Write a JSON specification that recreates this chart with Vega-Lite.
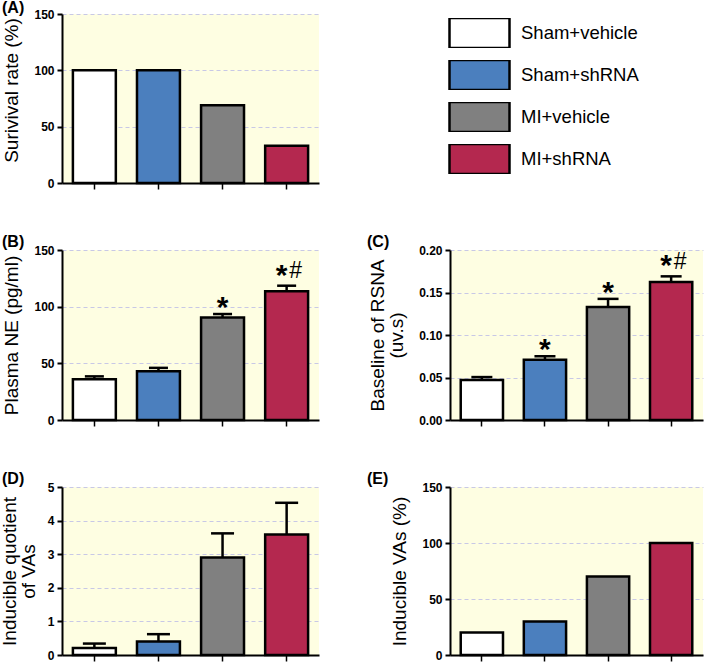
{
  "$schema": "https://vega.github.io/schema/vega-lite/v6.json",
  "padding": {"left": 0, "top": 0, "right": 2, "bottom": 0},
  "background": "white",
  "columns": 2,
  "bounds": "flush",
  "align": "each",
  "spacing": {"row": 67, "column": 131},
  "resolve": {"scale": {"color": "independent"}, "legend": {"color": "independent"}},
  "concat": [
    {
      "width": 257, "height": 169,
      "view": {"fill": "#fefee2", "stroke": null},
      "title": {"text": "(A)", "dx": -60, "dy": 12},
      "data": {"values": [
        {"group": "Sham+vehicle", "value": 100},
        {"group": "Sham+shRNA", "value": 100},
        {"group": "MI+vehicle", "value": 69},
        {"group": "MI+shRNA", "value": 33}
      ]},
      "mark": {"type": "bar", "stroke": "black", "strokeWidth": 2.5},
      "encoding": {
        "x": {"field": "group", "type": "nominal", "sort": null, "scale": {"domain": ["Sham+vehicle","Sham+shRNA","MI+vehicle","MI+shRNA"], "paddingInner": 0.33, "paddingOuter": 0.17}, "axis": {"title": null}},
        "y": {"field": "value", "type": "quantitative", "title": "Surivival rate (%)", "scale": {"domain": [0, 150], "nice": false}, "axis": {"values": [0, 50, 100, 150], "titleY": 76}},
        "color": {"field": "group", "type": "nominal", "scale": {"domain": ["Sham+vehicle","Sham+shRNA","MI+vehicle","MI+shRNA"], "range": ["#ffffff","#4b7fbe","#808080","#b4284f"]}, "legend": null}
      }
    },
    {
      "width": 253, "height": 169,
      "view": {"fill": null, "stroke": null},
      "data": {"values": [
        {"group": "Sham+vehicle"},
        {"group": "Sham+shRNA"},
        {"group": "MI+vehicle"},
        {"group": "MI+shRNA"}
      ]},
      "mark": {"type": "point", "filled": true, "opacity": 0},
      "encoding": {
        "color": {"field": "group", "type": "nominal", "sort": null,
          "scale": {"domain": ["Sham+vehicle","Sham+shRNA","MI+vehicle","MI+shRNA"], "range": ["#ffffff","#4b7fbe","#808080","#b4284f"]},
          "legend": {
            "orient": "none", "legendX": -2, "legendY": 4, "title": null, "padding": 0,
            "symbolType": "M-1,-1H3V1H-1Z", "symbolSize": 900, "clipHeight": 30,
            "symbolStrokeColor": "black", "symbolStrokeWidth": 2.5, "symbolOpacity": 1,
            "labelFont": "Liberation Sans", "labelFontSize": 18.5, "labelColor": "black", "labelOffset": 40, "labelLimit": 300,
            "rowPadding": 12,
            "encode": {"symbols": {"update": {"stroke": {"value": "black"}, "strokeWidth": {"value": 2.5}, "opacity": {"value": 1}}}}
          }
        }
      }
    },
    {
      "width": 257, "height": 170,
      "view": {"fill": "#fefee2", "stroke": null},
      "title": {"text": "(B)", "dx": -60, "dy": 10},
      "data": {"values": [
        {"group": "Sham+vehicle", "value": 36, "upper": 38.5, "star": "", "hash": ""},
        {"group": "Sham+shRNA", "value": 43, "upper": 46, "star": "", "hash": ""},
        {"group": "MI+vehicle", "value": 90.5, "upper": 93.5, "star": "*", "hash": ""},
        {"group": "MI+shRNA", "value": 113.5, "upper": 118.5, "star": "*", "hash": "#"}
      ]},
      "encoding": {
        "x": {"field": "group", "type": "nominal", "sort": null, "scale": {"domain": ["Sham+vehicle","Sham+shRNA","MI+vehicle","MI+shRNA"], "paddingInner": 0.33, "paddingOuter": 0.17}, "axis": {"title": null}}
      },
      "layer": [
        {"mark": {"type": "rule", "color": "black", "strokeWidth": 2.5},
         "encoding": {"y": {"field": "value", "type": "quantitative", "title": "Plasma NE (pg/ml)", "scale": {"domain": [0, 150], "nice": false}, "axis": {"values": [0, 50, 100, 150]}}, "y2": {"field": "upper"}}},
        {"mark": {"type": "tick", "color": "black", "thickness": 2.5, "size": 19, "opacity": 1},
         "encoding": {"y": {"field": "upper", "type": "quantitative", "title": "Plasma NE (pg/ml)", "scale": {"domain": [0, 150], "nice": false}, "axis": {"values": [0, 50, 100, 150]}}}},
        {"mark": {"type": "bar", "stroke": "black", "strokeWidth": 2.5},
         "encoding": {"y": {"field": "value", "type": "quantitative", "title": "Plasma NE (pg/ml)", "scale": {"domain": [0, 150], "nice": false}, "axis": {"values": [0, 50, 100, 150]}},
           "color": {"field": "group", "type": "nominal", "scale": {"domain": ["Sham+vehicle","Sham+shRNA","MI+vehicle","MI+shRNA"], "range": ["#ffffff","#4b7fbe","#808080","#b4284f"]}, "legend": null}}},
        {"transform": [{"filter": "datum.star == '*' && datum.hash == ''"}],
         "mark": {"type": "text", "font": "Liberation Sans", "fontSize": 30, "fontWeight": "bold", "baseline": "alphabetic", "dy": 3, "color": "black"},
         "encoding": {"y": {"field": "upper", "type": "quantitative", "title": "Plasma NE (pg/ml)", "scale": {"domain": [0, 150], "nice": false}, "axis": {"values": [0, 50, 100, 150]}}, "text": {"field": "star"}}},
        {"transform": [{"filter": "datum.hash == '#'"}],
         "mark": {"type": "text", "font": "Liberation Sans", "fontSize": 30, "fontWeight": "bold", "baseline": "alphabetic", "dy": -1, "dx": -5, "color": "black"},
         "encoding": {"y": {"field": "upper", "type": "quantitative", "title": "Plasma NE (pg/ml)", "scale": {"domain": [0, 150], "nice": false}, "axis": {"values": [0, 50, 100, 150]}}, "text": {"field": "star"}}},
        {"transform": [{"filter": "datum.hash == '#'"}],
         "mark": {"type": "text", "font": "Liberation Sans", "fontSize": 23, "baseline": "alphabetic", "dy": -7.5, "dx": 9, "color": "black"},
         "encoding": {"y": {"field": "upper", "type": "quantitative", "title": "Plasma NE (pg/ml)", "scale": {"domain": [0, 150], "nice": false}, "axis": {"values": [0, 50, 100, 150]}}, "text": {"field": "hash"}}}
      ]
    },
    {
      "width": 253, "height": 170,
      "view": {"fill": "#fefee2", "stroke": null},
      "title": {"text": "(C)", "dx": -83, "dy": 10},
      "data": {"values": [
        {"group": "Sham+vehicle", "value": 0.047, "upper": 0.0505, "star": "", "hash": ""},
        {"group": "Sham+shRNA", "value": 0.071, "upper": 0.075, "star": "*", "hash": ""},
        {"group": "MI+vehicle", "value": 0.133, "upper": 0.1425, "star": "*", "hash": ""},
        {"group": "MI+shRNA", "value": 0.1625, "upper": 0.169, "star": "*", "hash": "#"}
      ]},
      "encoding": {
        "x": {"field": "group", "type": "nominal", "sort": null, "scale": {"domain": ["Sham+vehicle","Sham+shRNA","MI+vehicle","MI+shRNA"], "paddingInner": 0.33, "paddingOuter": 0.17}, "axis": {"title": null}}
      },
      "layer": [
        {"mark": {"type": "rule", "color": "black", "strokeWidth": 2.5},
         "encoding": {"y": {"field": "value", "type": "quantitative", "title": ["Baseline of RSNA", "(uv.s)"], "scale": {"domain": [0, 0.2], "nice": false}, "axis": {"values": [0, 0.05, 0.1, 0.15, 0.2], "format": ".2f"}}, "y2": {"field": "upper"}}},
        {"mark": {"type": "tick", "color": "black", "thickness": 2.5, "size": 21, "opacity": 1},
         "encoding": {"y": {"field": "upper", "type": "quantitative", "title": ["Baseline of RSNA", "(uv.s)"], "scale": {"domain": [0, 0.2], "nice": false}, "axis": {"values": [0, 0.05, 0.1, 0.15, 0.2], "format": ".2f"}}}},
        {"mark": {"type": "bar", "stroke": "black", "strokeWidth": 2.5},
         "encoding": {"y": {"field": "value", "type": "quantitative", "title": ["Baseline of RSNA", "(uv.s)"], "scale": {"domain": [0, 0.2], "nice": false}, "axis": {"values": [0, 0.05, 0.1, 0.15, 0.2], "format": ".2f"}},
           "color": {"field": "group", "type": "nominal", "scale": {"domain": ["Sham+vehicle","Sham+shRNA","MI+vehicle","MI+shRNA"], "range": ["#ffffff","#4b7fbe","#808080","#b4284f"]}, "legend": null}}},
        {"transform": [{"filter": "datum.star == '*' && datum.hash == ''"}],
         "mark": {"type": "text", "font": "Liberation Sans", "fontSize": 30, "fontWeight": "bold", "baseline": "alphabetic", "dy": 3, "color": "black"},
         "encoding": {"y": {"field": "upper", "type": "quantitative", "title": ["Baseline of RSNA", "(uv.s)"], "scale": {"domain": [0, 0.2], "nice": false}, "axis": {"values": [0, 0.05, 0.1, 0.15, 0.2], "format": ".2f"}}, "text": {"field": "star"}}},
        {"transform": [{"filter": "datum.hash == '#'"}],
         "mark": {"type": "text", "font": "Liberation Sans", "fontSize": 30, "fontWeight": "bold", "baseline": "alphabetic", "dy": -1, "dx": -5, "color": "black"},
         "encoding": {"y": {"field": "upper", "type": "quantitative", "title": ["Baseline of RSNA", "(uv.s)"], "scale": {"domain": [0, 0.2], "nice": false}, "axis": {"values": [0, 0.05, 0.1, 0.15, 0.2], "format": ".2f"}}, "text": {"field": "star"}}},
        {"transform": [{"filter": "datum.hash == '#'"}],
         "mark": {"type": "text", "font": "Liberation Sans", "fontSize": 23, "baseline": "alphabetic", "dy": -7.5, "dx": 9, "color": "black"},
         "encoding": {"y": {"field": "upper", "type": "quantitative", "title": ["Baseline of RSNA", "(uv.s)"], "scale": {"domain": [0, 0.2], "nice": false}, "axis": {"values": [0, 0.05, 0.1, 0.15, 0.2], "format": ".2f"}}, "text": {"field": "hash"}}}
      ]
    },
    {
      "width": 257, "height": 168,
      "view": {"fill": "#fefee2", "stroke": null},
      "title": {"text": "(D)", "dx": -60, "dy": 10},
      "data": {"values": [
        {"group": "Sham+vehicle", "value": 0.21, "upper": 0.34},
        {"group": "Sham+shRNA", "value": 0.4, "upper": 0.62},
        {"group": "MI+vehicle", "value": 2.9, "upper": 3.62},
        {"group": "MI+shRNA", "value": 3.59, "upper": 4.53}
      ]},
      "encoding": {
        "x": {"field": "group", "type": "nominal", "sort": null, "scale": {"domain": ["Sham+vehicle","Sham+shRNA","MI+vehicle","MI+shRNA"], "paddingInner": 0.33, "paddingOuter": 0.17}, "axis": {"title": null}}
      },
      "layer": [
        {"mark": {"type": "rule", "color": "black", "strokeWidth": 2.5},
         "encoding": {"y": {"field": "value", "type": "quantitative", "title": ["Inducible quotient", "of VAs"], "scale": {"domain": [0, 5], "nice": false}, "axis": {"values": [0, 1, 2, 3, 4, 5], "labelOverlap": false, "titlePadding": 9}}, "y2": {"field": "upper"}}},
        {"mark": {"type": "tick", "color": "black", "thickness": 2.5, "size": 23, "opacity": 1},
         "encoding": {"y": {"field": "upper", "type": "quantitative", "title": ["Inducible quotient", "of VAs"], "scale": {"domain": [0, 5], "nice": false}, "axis": {"values": [0, 1, 2, 3, 4, 5], "labelOverlap": false, "titlePadding": 9}}}},
        {"mark": {"type": "bar", "stroke": "black", "strokeWidth": 2.5},
         "encoding": {"y": {"field": "value", "type": "quantitative", "title": ["Inducible quotient", "of VAs"], "scale": {"domain": [0, 5], "nice": false}, "axis": {"values": [0, 1, 2, 3, 4, 5], "labelOverlap": false, "titlePadding": 9}},
           "color": {"field": "group", "type": "nominal", "scale": {"domain": ["Sham+vehicle","Sham+shRNA","MI+vehicle","MI+shRNA"], "range": ["#ffffff","#4b7fbe","#808080","#b4284f"]}, "legend": null}}}
      ]
    },
    {
      "width": 253, "height": 168,
      "view": {"fill": "#fefee2", "stroke": null},
      "title": {"text": "(E)", "dx": -83, "dy": 10},
      "data": {"values": [
        {"group": "Sham+vehicle", "value": 20},
        {"group": "Sham+shRNA", "value": 30},
        {"group": "MI+vehicle", "value": 70},
        {"group": "MI+shRNA", "value": 100}
      ]},
      "mark": {"type": "bar", "stroke": "black", "strokeWidth": 2.5},
      "encoding": {
        "x": {"field": "group", "type": "nominal", "sort": null, "scale": {"domain": ["Sham+vehicle","Sham+shRNA","MI+vehicle","MI+shRNA"], "paddingInner": 0.33, "paddingOuter": 0.17}, "axis": {"title": null}},
        "y": {"field": "value", "type": "quantitative", "title": "Inducible VAs (%)", "scale": {"domain": [0, 150], "nice": false}, "axis": {"values": [0, 50, 100, 150]}},
        "color": {"field": "group", "type": "nominal", "scale": {"domain": ["Sham+vehicle","Sham+shRNA","MI+vehicle","MI+shRNA"], "range": ["#ffffff","#4b7fbe","#808080","#b4284f"]}, "legend": null}
      }
    }
  ],
  "config": {
    "font": "Liberation Sans",
    "title": {"anchor": "start", "frame": "group", "fontSize": 16, "fontWeight": "bold", "color": "black", "font": "Liberation Sans", "offset": 0, "baseline": "bottom"},
    "axis": {"labelFont": "Liberation Sans", "titleFont": "Liberation Sans"},
    "axisX": {"labels": false, "grid": false, "domainColor": "black", "domainWidth": 2, "tickColor": "black", "tickWidth": 1.5, "tickSize": 6},
    "axisY": {"domainColor": "black", "domainWidth": 2, "tickColor": "black", "tickWidth": 2, "tickSize": 5,
      "labelFontWeight": "bold", "labelFontSize": 12, "labelColor": "black", "labelPadding": 3,
      "titleFontSize": 19, "titleFontWeight": "normal", "titleColor": "black", "titlePadding": 12, "titleLineHeight": 19,
      "grid": true, "gridColor": "#c8c8e6", "gridDash": [4, 3], "gridWidth": 1}
  }
}
